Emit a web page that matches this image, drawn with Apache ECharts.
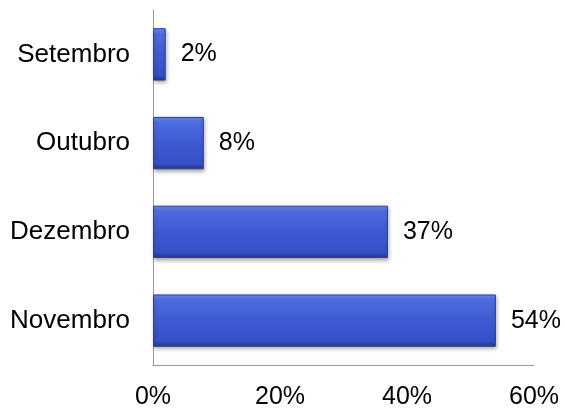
<!DOCTYPE html>
<html><head><meta charset="utf-8">
<script src="https://cdn.jsdelivr.net/npm/echarts@6/dist/echarts.min.js"></script>
<style>html,body{margin:0;padding:0;background:#fff}#c{width:565px;height:410px}</style>
</head><body><div id="c"></div>
<script>
var categories = ['Novembro', 'Dezembro', 'Outubro', 'Setembro'];
var values = [54, 37, 8, 2];
var xTicks = [0, 20, 40, 60];

var chart = echarts.init(document.getElementById('c'), null, {renderer: 'canvas'});
chart.setOption({
  animation: false,
  grid: {left: 153, right: 31, top: 10, bottom: 44, containLabel: false},
  xAxis: {
    type: 'value', min: xTicks[0], max: xTicks[xTicks.length - 1], interval: 20,
    axisLine: {show: true, lineStyle: {color: '#999999', width: 1}},
    axisTick: {show: false},
    splitLine: {show: false},
    axisLabel: {formatter: '{value}%', color: '#000', fontFamily: 'Liberation Sans, Arial', fontSize: 25, margin: 20}
  },
  yAxis: {
    type: 'category', data: categories,
    axisLine: {show: true, lineStyle: {color: '#999999', width: 1}},
    axisTick: {show: false},
    axisLabel: {color: '#000', fontFamily: 'Liberation Sans, Arial', fontSize: 26, margin: 23}
  },
  series: [{
    type: 'bar', data: values, barCategoryGap: '41%',
    itemStyle: {
      color: new echarts.graphic.LinearGradient(0, 0, 0, 1, [
        {offset: 0, color: '#6f8ef0'},
        {offset: 0.12, color: '#4d6ce0'},
        {offset: 0.5, color: '#3e5ad3'},
        {offset: 0.88, color: '#3651c8'},
        {offset: 1, color: '#22379a'}
      ]),
      borderColor: '#2a3f9e', borderWidth: 1,
      shadowColor: 'rgba(0,0,0,0.35)', shadowBlur: 4, shadowOffsetX: 1, shadowOffsetY: 2
    },
    label: {show: true, position: 'right', distance: 15, formatter: '{c}%', color: '#000', fontFamily: 'Liberation Sans, Arial', fontSize: 25}
  }]
});
</script></body></html>
